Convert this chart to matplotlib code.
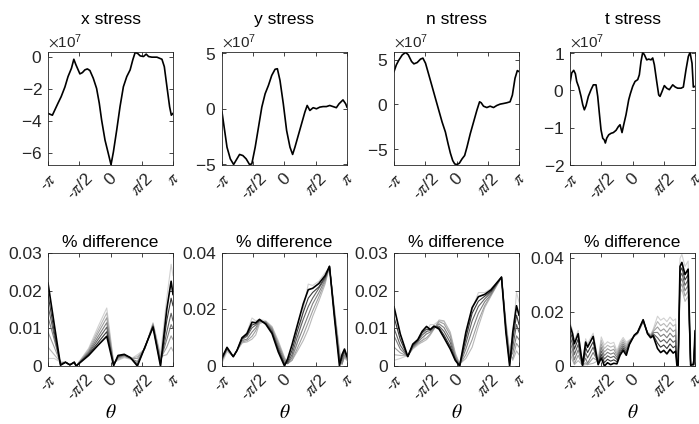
import numpy as np
import matplotlib
matplotlib.use('Agg')
import matplotlib.pyplot as plt
from matplotlib.ticker import FuncFormatter, ScalarFormatter

plt.rcParams['font.family'] = ['Liberation Sans', 'DejaVu Sans']
plt.rcParams['mathtext.fontset'] = 'stix'
plt.rcParams['axes.unicode_minus'] = False

# ---- stress components along the boundary (theta in units of pi, stress in 1e7) ----
x_theta = [-1.0, -0.93, -0.84, -0.79, -0.73, -0.68, -0.625, -0.587, -0.555, -0.49,
           -0.45, -0.41, -0.37, -0.33, -0.276, -0.223, -0.18, -0.142, -0.088, -0.035,
           0.008, 0.046, 0.099, 0.153, 0.206, 0.26, 0.314, 0.357, 0.394, 0.432,
           0.475, 0.528, 0.571, 0.609, 0.662, 0.743, 0.823, 0.861, 0.903, 0.946,
           0.973, 1.0]
x_stress = [-3.54, -3.65, -2.9, -2.5, -1.9, -1.25, -0.73, -0.17, -0.5, -1.08,
            -1.0, -0.83, -0.77, -0.87, -1.35, -1.98, -2.9, -3.96, -5.2, -6.04,
            -6.73, -5.94, -4.58, -3.1, -1.88, -1.25, -0.83, -0.2, 0.25, 0.2,
            0.04, 0.0, 0.15, 0.0, -0.04, -0.04, -0.17, -0.63, -1.88, -3.13,
            -3.65, -3.54]

y_theta = [-1.0, -0.958, -0.92, -0.867, -0.814, -0.772, -0.719, -0.666, -0.613, -0.56,
           -0.523, -0.469, -0.416, -0.363, -0.31, -0.257, -0.204, -0.151, -0.114, -0.072,
           -0.019, 0.034, 0.088, 0.13, 0.167, 0.22, 0.273, 0.326, 0.363, 0.406,
           0.459, 0.512, 0.565, 0.618, 0.671, 0.724, 0.777, 0.83, 0.873, 0.936,
           0.979, 1.0]
y_stress = [-0.3, -1.95, -3.45, -4.5, -5.0, -4.6, -4.1, -4.2, -4.5, -5.0,
            -4.95, -3.45, -1.65, 0.15, 1.35, 2.1, 3.0, 3.55, 3.6, 2.55,
            0.45, -1.95, -3.45, -4.1, -3.45, -2.4, -1.35, -0.3, 0.3, -0.15,
            0.1, 0.0, 0.15, 0.2, 0.2, 0.3, 0.2, 0.1, 0.45, 0.8,
            0.45, 0.15]

n_theta = [-1.0, -0.963, -0.92, -0.867, -0.814, -0.772, -0.719, -0.682, -0.629, -0.576,
           -0.538, -0.496, -0.443, -0.39, -0.337, -0.284, -0.231, -0.178, -0.135, -0.098,
           -0.061, -0.029, 0.008, 0.045, 0.088, 0.13, 0.167, 0.22, 0.273, 0.326,
           0.369, 0.395, 0.432, 0.485, 0.538, 0.592, 0.645, 0.698, 0.751, 0.804,
           0.857, 0.894, 0.936, 0.973, 1.0]
n_stress = [3.67, 4.42, 4.98, 5.54, 5.8, 5.54, 4.79, 4.53, 4.68, 5.06,
            5.17, 4.6, 3.3, 1.99, 0.67, -0.64, -1.95, -3.07, -4.38, -5.43,
            -6.25, -6.63, -6.7, -6.55, -6.07, -5.69, -4.76, -3.26, -1.95, -0.64,
            0.3, 0.19, -0.19, -0.34, -0.19, -0.34, -0.11, 0.04, 0.11, 0.19,
            0.3, 1.05, 2.92, 3.78, 3.67]

t_theta = [-1.0, -0.973, -0.941, -0.915, -0.893, -0.861, -0.824, -0.797, -0.771, -0.744,
           -0.707, -0.664, -0.627, -0.584, -0.557, -0.531, -0.504, -0.477, -0.451, -0.435,
           -0.413, -0.381, -0.344, -0.307, -0.264, -0.227, -0.2, -0.168, -0.141, -0.104,
           -0.061, -0.035, 0.003, 0.04, 0.083, 0.109, 0.136, 0.163, 0.189, 0.227,
           0.259, 0.296, 0.323, 0.349, 0.387, 0.419, 0.44, 0.472, 0.509, 0.547,
           0.589, 0.643, 0.685, 0.723, 0.776, 0.813, 0.856, 0.893, 0.92, 0.952,
           0.973, 1.0]
t_stress = [0.2, 0.47, 0.54, 0.45, 0.24, 0.09, -0.16, -0.38, -0.52, -0.41,
            -0.16, 0.02, 0.15, 0.15, -0.16, -0.61, -1.06, -1.28, -1.33, -1.41,
            -1.28, -1.19, -1.15, -1.13, -1.07, -0.97, -0.92, -1.13, -0.92, -0.65,
            -0.25, -0.09, 0.11, 0.24, 0.29, 0.42, 0.78, 1.02, 0.96, 0.82,
            0.84, 0.82, 0.87, 0.69, 0.24, -0.12, -0.16, -0.03, 0.13, 0.06,
            0.02, 0.15, 0.09, 0.06, 0.06, 0.09, 0.56, 0.91, 1.02, 0.73,
            0.09, 0.11]

# ---- % difference for each refinement level (lightest first, darkest last) ----
dx_theta = [-1, -0.9, -0.8, -0.72, -0.65, -0.58, -0.55, -0.35, -0.2, -0.06,
            0.05, 0.12, 0.22, 0.32, 0.43, 0.55, 0.68, 0.8, 0.9, 0.97, 1.0]
dx_diff = [
    [0.002, 0.002, 0.001, 0.001, 0.0003, 0.001, 0.0, 0.0047, 0.0104, 0.0154,
     0.001, 0.0015, 0.0022, 0.0018, 0.003, 0.0045, 0.0115, 0.003, 0.018, 0.027, 0.024],
    [0.005, 0.003, 0.001, 0.001, 0.0003, 0.001, 0.0, 0.0044, 0.0095, 0.0141,
     0.0008, 0.0017, 0.0024, 0.0019, 0.0025, 0.0046, 0.0113, 0.0025, 0.003, 0.005, 0.004],
    [0.009, 0.005, 0.0008, 0.001, 0.0003, 0.001, 0.0, 0.004, 0.0087, 0.0128,
     0.0006, 0.002, 0.0026, 0.002, 0.002, 0.0047, 0.0111, 0.002, 0.005, 0.008, 0.007],
    [0.013, 0.007, 0.0006, 0.001, 0.0003, 0.001, 0.0, 0.0037, 0.0078, 0.0115,
     0.0004, 0.0022, 0.0028, 0.002, 0.0012, 0.0048, 0.0109, 0.0014, 0.007, 0.011, 0.01],
    [0.016, 0.008, 0.0005, 0.001, 0.0003, 0.001, 0.0, 0.0034, 0.007, 0.0103,
     0.0003, 0.0024, 0.003, 0.0021, 0.0006, 0.0049, 0.0107, 0.0008, 0.009, 0.014, 0.012],
    [0.019, 0.009, 0.0003, 0.001, 0.0003, 0.001, 0.0, 0.0031, 0.0062, 0.0091,
     0.0002, 0.0026, 0.003, 0.0022, 0.0002, 0.005, 0.0105, 0.0003, 0.012, 0.018, 0.016],
    [0.022, 0.011, 0.0002, 0.001, 0.0003, 0.001, 0.0, 0.0028, 0.0055, 0.0079,
     0.0001, 0.0028, 0.0031, 0.0022, 0.0, 0.005, 0.0103, 0.0, 0.015, 0.0225, 0.019],
]

dy_theta = [-1, -0.92, -0.82, -0.76, -0.68, -0.6, -0.52, -0.46, -0.4, -0.3,
            -0.2, -0.1, 0.0, 0.05, 0.12, 0.2, 0.3, 0.38, 0.45, 0.55,
            0.65, 0.72, 0.8, 0.88, 0.92, 0.96, 1.0]
dy_diff = [
    [0.001, 0.005, 0.0035, 0.0055, 0.008, 0.012, 0.017, 0.016, 0.0165, 0.016,
     0.014, 0.009, 0.003, 0.0015, 0.0025, 0.0075, 0.02, 0.029, 0.0285, 0.03,
     0.033, 0.0348, 0.02, 0.006, 0.001, 0.003, 0.002],
    [0.0015, 0.0055, 0.0035, 0.0055, 0.0082, 0.0085, 0.0095, 0.011, 0.015, 0.0158,
     0.0138, 0.0085, 0.0028, 0.001, 0.002, 0.005, 0.009, 0.013, 0.0175, 0.023,
     0.029, 0.035, 0.02, 0.005, 0.0008, 0.003, 0.002],
    [0.002, 0.006, 0.0034, 0.0055, 0.0085, 0.009, 0.0105, 0.0125, 0.0155, 0.0157,
     0.0135, 0.008, 0.0025, 0.0008, 0.002, 0.006, 0.011, 0.0155, 0.0195, 0.0245,
     0.0298, 0.0352, 0.019, 0.004, 0.0005, 0.0035, 0.0025],
    [0.002, 0.006, 0.0033, 0.0055, 0.009, 0.0095, 0.012, 0.0135, 0.016, 0.0155,
     0.013, 0.0072, 0.0018, 0.0008, 0.003, 0.008, 0.0135, 0.018, 0.022, 0.026,
     0.0305, 0.0352, 0.0185, 0.003, 0.0008, 0.004, 0.0025],
    [0.0025, 0.0062, 0.0033, 0.0055, 0.0095, 0.0105, 0.0135, 0.0145, 0.016, 0.0152,
     0.0125, 0.0065, 0.001, 0.001, 0.004, 0.01, 0.0165, 0.021, 0.024, 0.0275,
     0.031, 0.0352, 0.018, 0.002, 0.002, 0.005, 0.003],
    [0.0025, 0.0064, 0.0033, 0.0055, 0.0098, 0.011, 0.0145, 0.015, 0.0163, 0.015,
     0.012, 0.0058, 0.0005, 0.0015, 0.0055, 0.012, 0.019, 0.024, 0.026, 0.028,
     0.0315, 0.0353, 0.0175, 0.001, 0.003, 0.0055, 0.003],
    [0.003, 0.0066, 0.0033, 0.0055, 0.01, 0.0115, 0.0155, 0.0153, 0.0165, 0.0148,
     0.0115, 0.005, 0.0, 0.0025, 0.0075, 0.014, 0.022, 0.027, 0.0275, 0.0292,
     0.032, 0.0353, 0.017, 0.0, 0.004, 0.006, 0.0035],
]

dn_theta = [-1, -0.9, -0.78, -0.7, -0.62, -0.55, -0.48, -0.42, -0.36, -0.28,
            -0.2, -0.1, -0.02, 0.05, 0.15, 0.25, 0.35, 0.45, 0.55, 0.65,
            0.72, 0.79, 0.85, 0.9, 0.96, 1.0]
dn_diff = [
    [0.0015, 0.002, 0.0028, 0.0045, 0.0055, 0.0065, 0.009, 0.011, 0.011, 0.012,
     0.0118, 0.0085, 0.003, 0.0008, 0.007, 0.015, 0.0195, 0.0195, 0.0205, 0.0222,
     0.0234, 0.012, 0.004, 0.008, 0.0195, 0.017],
    [0.003, 0.0028, 0.0027, 0.0046, 0.0058, 0.0063, 0.007, 0.0082, 0.0098, 0.0122,
     0.012, 0.009, 0.0035, 0.0005, 0.002, 0.005, 0.0105, 0.0155, 0.0185, 0.0215,
     0.0235, 0.0115, 0.0035, 0.0015, 0.004, 0.003],
    [0.005, 0.0035, 0.0026, 0.0048, 0.006, 0.0068, 0.0075, 0.0085, 0.0099, 0.0118,
     0.0112, 0.0082, 0.003, 0.0003, 0.003, 0.007, 0.012, 0.016, 0.0188, 0.0216,
     0.0236, 0.011, 0.003, 0.002, 0.006, 0.005],
    [0.008, 0.0045, 0.0025, 0.005, 0.0063, 0.0075, 0.0085, 0.009, 0.01, 0.0112,
     0.0102, 0.0072, 0.0025, 0.0002, 0.0045, 0.0095, 0.014, 0.017, 0.019, 0.0218,
     0.0236, 0.0105, 0.002, 0.0035, 0.008, 0.007],
    [0.01, 0.0055, 0.0025, 0.0052, 0.0066, 0.0082, 0.0092, 0.0094, 0.0102, 0.0106,
     0.0092, 0.0062, 0.002, 0.0001, 0.006, 0.012, 0.0158, 0.0178, 0.0195, 0.0219,
     0.0236, 0.01, 0.0012, 0.005, 0.011, 0.009],
    [0.013, 0.007, 0.0025, 0.0055, 0.0068, 0.0088, 0.0098, 0.0096, 0.0104, 0.0102,
     0.0082, 0.0052, 0.0017, 0.0, 0.0075, 0.014, 0.0172, 0.0185, 0.0198, 0.022,
     0.0236, 0.0095, 0.0005, 0.007, 0.0135, 0.011],
    [0.0157, 0.0085, 0.0025, 0.0058, 0.007, 0.0092, 0.0105, 0.0097, 0.0106, 0.0098,
     0.0075, 0.0045, 0.0015, 0.0, 0.009, 0.0155, 0.0184, 0.019, 0.0202, 0.0222,
     0.0236, 0.009, 0.0, 0.009, 0.016, 0.0135],
]

dt_theta = [-1, -0.96, -0.93, -0.87, -0.8, -0.75, -0.72, -0.63, -0.55, -0.5,
            -0.45, -0.4, -0.35, -0.3, -0.25, -0.2, -0.15, -0.1, -0.05, 0.03,
            0.08, 0.17, 0.24, 0.29, 0.33, 0.4, 0.45, 0.5, 0.55, 0.6,
            0.65, 0.69, 0.71, 0.73, 0.76, 0.79, 0.84, 0.89, 0.93, 0.98, 1.0]
dt_diff = [
    [0.0162, 0.0132, 0.0095, 0.0132, 0.001, 0.0101, 0.0082, 0.0122, 0.0023, 0.0108,
     0.0078, 0.009, 0.0083, 0.0088, 0.0056, 0.0088, 0.0106, 0.0088, 0.0097, 0.011,
     0.0119, 0.0162, 0.0126, 0.0117, 0.0136, 0.0185, 0.017, 0.0178, 0.0165, 0.0182,
     0.0168, 0.0175, 0.0005, 0.0005, 0.040, 0.0415, 0.037, 0.039, 0.0005, 0.002, 0.0135],
    [0.005, 0.002, 0.0005, 0.002, 0.0003, 0.0005, 0.0005, 0.001, 0.002, 0.0095,
     0.0065, 0.0077, 0.007, 0.0075, 0.0048, 0.008, 0.0098, 0.008, 0.0094, 0.0111,
     0.012, 0.0164, 0.0125, 0.0115, 0.0132, 0.0165, 0.015, 0.0158, 0.0145, 0.0162,
     0.0148, 0.0155, 0.0003, 0.0003, 0.027, 0.0285, 0.024, 0.026, 0.0003, 0.0018, 0.008],
    [0.007, 0.004, 0.0008, 0.004, 0.0003, 0.0012, 0.0005, 0.003, 0.0018, 0.0082,
     0.0052, 0.0064, 0.0057, 0.0062, 0.004, 0.0072, 0.009, 0.0072, 0.0091, 0.0112,
     0.0121, 0.0166, 0.0124, 0.0113, 0.0128, 0.0145, 0.013, 0.0138, 0.0125, 0.0142,
     0.0128, 0.0135, 0.0003, 0.0003, 0.029, 0.0305, 0.026, 0.028, 0.0003, 0.0015, 0.009],
    [0.009, 0.006, 0.0023, 0.006, 0.0003, 0.0029, 0.001, 0.005, 0.0014, 0.0069,
     0.0039, 0.0051, 0.0044, 0.0049, 0.0032, 0.0064, 0.0082, 0.0064, 0.0088, 0.0113,
     0.0122, 0.0168, 0.0123, 0.0111, 0.0124, 0.0125, 0.011, 0.0118, 0.0105, 0.0122,
     0.0108, 0.0115, 0.0003, 0.0003, 0.031, 0.0325, 0.028, 0.030, 0.0003, 0.0012, 0.010],
    [0.011, 0.008, 0.0043, 0.008, 0.0003, 0.0049, 0.003, 0.007, 0.0011, 0.0056,
     0.0026, 0.0038, 0.0031, 0.0036, 0.0024, 0.0056, 0.0074, 0.0056, 0.0085, 0.0114,
     0.0123, 0.017, 0.0122, 0.0109, 0.012, 0.0105, 0.009, 0.0098, 0.0085, 0.0102,
     0.0088, 0.0095, 0.0003, 0.0003, 0.033, 0.0345, 0.030, 0.032, 0.0003, 0.001, 0.011],
    [0.013, 0.010, 0.0063, 0.010, 0.0, 0.0069, 0.005, 0.009, 0.0008, 0.0043,
     0.0013, 0.0025, 0.0018, 0.0023, 0.0016, 0.0048, 0.0066, 0.0048, 0.0082, 0.0115,
     0.0124, 0.0171, 0.0121, 0.0107, 0.0116, 0.0085, 0.007, 0.0078, 0.0065, 0.0082,
     0.0068, 0.0075, 0.0003, 0.0003, 0.035, 0.0365, 0.032, 0.034, 0.0003, 0.0008, 0.012],
    [0.015, 0.012, 0.0083, 0.012, 0.0003, 0.0089, 0.007, 0.011, 0.0005, 0.003,
     0.0, 0.0012, 0.0005, 0.001, 0.0008, 0.004, 0.0058, 0.004, 0.008, 0.0115,
     0.0125, 0.0172, 0.012, 0.0105, 0.0112, 0.0065, 0.005, 0.0058, 0.0045, 0.0062,
     0.0048, 0.0055, 0.0003, 0.0003, 0.037, 0.0385, 0.034, 0.036, 0.0003, 0.0005, 0.013],
]

titles = ['x stress', 'y stress', 'n stress', 't stress']
stress_sets = [(x_theta, x_stress), (y_theta, y_stress), (n_theta, n_stress), (t_theta, t_stress)]
stress_lims = [(-6.75, 0.28), (-5.05, 5.1), (-6.75, 5.85), (-2.0, 1.03)]
stress_ticks = [[-6, -4, -2, 0], [-5, 0, 5], [-5, 0, 5], [-2, -1, 0, 1]]

diff_sets = [(dx_theta, dx_diff), (dy_theta, dy_diff), (dn_theta, dn_diff), (dt_theta, dt_diff)]
diff_lims = [0.03, 0.04, 0.03, 0.042]
diff_ticks = [[0, 0.01, 0.02, 0.03], [0, 0.02, 0.04], [0, 0.01, 0.02, 0.03], [0, 0.02, 0.04]]

greys = ['0.82', '0.72', '0.62', '0.5', '0.38', '0.22', '0.0']
axis_col = '#262626'
tick_size = 12.5

theta_ticks = np.array([-1, -0.5, 0, 0.5, 1]) * np.pi
theta_labels = ['-$\\pi$', '-$\\pi$/2', '0', '$\\pi$/2', '$\\pi$']


def style_axes(ax):
    ax.tick_params(direction='in', top=True, right=True, length=3, width=0.6,
                   labelsize=tick_size, colors=axis_col, pad=4)
    ax.set_xlim(-np.pi, np.pi)
    ax.set_xticks(theta_ticks)
    ax.set_xticklabels(theta_labels, rotation=45, ha='center', fontsize=tick_size)
    for sp in ax.spines.values():
        sp.set_linewidth(0.6)
        sp.set_color(axis_col)


fig = plt.figure(figsize=(6.99, 4.24), dpi=100)
lefts = [0.0687, 0.3176, 0.5637, 0.8155]
width, height = 0.1788, 0.2665

for i in range(4):
    # top row: stress component
    ax = fig.add_axes([lefts[i], 0.6108, width, height])
    th, vals = stress_sets[i]
    ax.plot(np.array(th) * np.pi, np.array(vals) * 1e7, color='k', lw=1.2)
    style_axes(ax)
    lo, hi = stress_lims[i]
    ax.set_ylim(lo * 1e7, hi * 1e7)
    ax.set_yticks(np.array(stress_ticks[i]) * 1e7)
    fmt = ScalarFormatter(useMathText=True)
    fmt.set_powerlimits((0, 0))
    ax.yaxis.set_major_formatter(fmt)
    ax.yaxis.get_offset_text().set_fontsize(11)
    ax.yaxis.get_offset_text().set_color(axis_col)
    ax.set_title(titles[i], fontsize=12.5, pad=20)

    # bottom row: % difference curves
    ax = fig.add_axes([lefts[i], 0.1368, width, height])
    th, curves = diff_sets[i]
    for c, vals in enumerate(curves):
        ax.plot(np.array(th) * np.pi, vals, color=greys[c],
                lw=1.2 if c == len(curves) - 1 else 0.8)
    style_axes(ax)
    ax.set_ylim(0, diff_lims[i])
    ax.set_yticks(diff_ticks[i])
    ax.yaxis.set_major_formatter(FuncFormatter(lambda v, p: '0' if abs(v) < 1e-12 else f'{v:g}'))
    ax.set_title('% difference', fontsize=12.5, pad=4)
    ax.set_xlabel(r'$\theta$', fontsize=14, labelpad=0)

fig.savefig('out.png', dpi=100)
